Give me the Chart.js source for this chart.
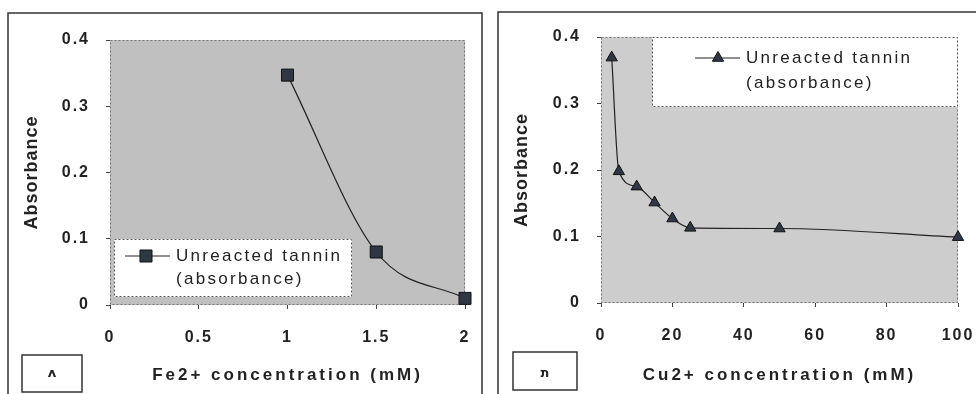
<!DOCTYPE html>
<html><head><meta charset="utf-8">
<script src="https://cdn.jsdelivr.net/npm/chart.js@4.4.0/dist/chart.umd.min.js"></script>
<style>
html,body{margin:0;padding:0;background:#fff;width:976px;height:394px;overflow:hidden}
canvas{position:absolute;top:0}
#c1{left:0px} #c2{left:490px}
</style></head><body>
<canvas id="c1" width="490" height="394"></canvas>
<canvas id="c2" width="486" height="394"></canvas>
<script>
// ---- data ----
const feConc = [1, 1.5, 2];
const feAbs = [0.347, 0.080, 0.010];
const cuConc = [3, 5, 10, 15, 20, 25, 50, 100];
const cuAbs = [0.369, 0.198, 0.175, 0.151, 0.127, 0.113, 0.112, 0.099];
const yTicks = [0, 0.1, 0.2, 0.3, 0.4];
const feTicks = [0, 0.5, 1, 1.5, 2];
const cuTicks = [0, 20, 40, 60, 80, 100];
const seriesName = ['Unreacted tannin', '(absorbance)'];
const yTitle = 'Absorbance';
const feTitle = 'Fe2+ concentration (mM)';
const cuTitle = 'Cu2+ concentration (mM)';
const panelTags = ['ʌ', 'ת'];

const INK = '#222';
const MARK_FILL = '#2f3744';
const FAM = '"Liberation Sans", Arial, sans-serif';

function wrapSpacing(scale, fnName, spacing) {
  const orig = scale[fnName];
  if (orig.__wrapped) return;
  const w = function () {
    const ctx = this.ctx;
    const prev = ctx.letterSpacing;
    ctx.letterSpacing = spacing;
    orig.apply(this, arguments);
    ctx.letterSpacing = prev;
  };
  w.__wrapped = true;
  scale[fnName] = w;
}

function decor(cfg) {
  return {
    id: 'decor',
    beforeLayout(c) { c.ctx.letterSpacing = '2px'; },
    afterUpdate(c) {
      wrapSpacing(c.scales.x, 'drawTitle', '3px');
      wrapSpacing(c.scales.y, 'drawTitle', '1px');
      wrapSpacing(c.scales.x, 'drawLabels', '2px');
      wrapSpacing(c.scales.y, 'drawLabels', '2px');
    },
    beforeDraw(c) {
      const ctx = c.ctx, a = c.chartArea;
      ctx.letterSpacing = '2px';
      ctx.save();
      ctx.fillStyle = cfg.plotBg;
      ctx.fillRect(a.left, a.top, a.right - a.left, a.bottom - a.top);
      ctx.setLineDash([2, 2]);
      ctx.strokeStyle = '#777';
      ctx.lineWidth = 1;
      ctx.strokeRect(a.left + 0.5, a.top + 0.5, a.right - a.left - 1, a.bottom - a.top - 1);
      ctx.setLineDash([]);
      ctx.strokeStyle = '#333';
      ctx.lineWidth = 1.5;
      const p = cfg.panel;
      ctx.strokeRect(p[0], p[1], p[2] - p[0], p[3] - p[1]);
      ctx.restore();
    },
    afterDraw(c) {
      const ctx = c.ctx;
      ctx.save();
      const L = cfg.legend;
      ctx.fillStyle = '#fff';
      ctx.fillRect(L.box[0], L.box[1], L.box[2] - L.box[0], L.box[3] - L.box[1]);
      ctx.setLineDash([2, 2]);
      ctx.strokeStyle = '#555';
      ctx.lineWidth = 1;
      ctx.strokeRect(L.box[0] + 0.5, L.box[1] + 0.5, L.box[2] - L.box[0] - 1, L.box[3] - L.box[1] - 1);
      ctx.setLineDash([]);
      ctx.strokeStyle = INK;
      ctx.lineWidth = 1;
      ctx.beginPath();
      ctx.moveTo(L.line[0], L.y); ctx.lineTo(L.line[1], L.y); ctx.stroke();
      ctx.fillStyle = MARK_FILL;
      ctx.strokeStyle = '#111';
      Chart.helpers.drawPoint(ctx, {pointStyle: cfg.style, radius: cfg.radius, rotation: 0, borderWidth: 1}, L.mx, L.y);
      ctx.fillStyle = INK;
      ctx.font = '17px ' + FAM;
      ctx.letterSpacing = '2.3px';
      ctx.textBaseline = 'middle';
      ctx.textAlign = 'left';
      ctx.fillText(seriesName[0], L.tx, L.y);
      ctx.fillText(seriesName[1], L.tx, L.y2);
      const T = cfg.tag;
      ctx.strokeStyle = '#333';
      ctx.lineWidth = 1.5;
      ctx.strokeRect(T.box[0], T.box[1], T.box[2] - T.box[0], T.box[3] - T.box[1]);
      ctx.letterSpacing = '0px';
      ctx.font = 'bold 13px "DejaVu Sans", sans-serif';
      ctx.textAlign = 'center';
      ctx.fillText(T.text, T.cx, T.cy);
      ctx.restore();
      ctx.letterSpacing = '2px';
    }
  };
}

function makeChart(id, xs, ys, xTicks, xMax, xTitle, cfg) {
  const pts = xs.map((x, i) => ({x: x, y: ys[i]}));
  const tickFont = {family: FAM, size: 16, weight: 'bold'};
  return new Chart(document.getElementById(id), {
    type: 'scatter',
    data: {datasets: [{
      label: seriesName.join(' '),
      data: pts,
      showLine: true,
      clip: false,
      borderColor: INK,
      borderWidth: 1.2,
      cubicInterpolationMode: 'monotone',
      pointStyle: cfg.style,
      pointRadius: cfg.radius,
      pointHoverRadius: cfg.radius,
      pointBackgroundColor: MARK_FILL,
      pointBorderColor: '#111',
      pointBorderWidth: 1
    }]},
    options: {
      responsive: false,
      animation: false,
      devicePixelRatio: 1,
      layout: {padding: {left: 0, top: cfg.top, right: cfg.right, bottom: 0}},
      plugins: {legend: {display: false}, tooltip: {enabled: false}},
      scales: {
        x: {
          type: 'linear', min: 0, max: xMax,
          afterBuildTicks: s => { s.ticks = xTicks.map(v => ({value: v})); },
          afterFit: s => { s.height = cfg.xh; s.paddingLeft = 0; s.paddingRight = 0; },
          grid: {display: true, drawOnChartArea: false, tickLength: 4, color: '#444'},
          border: {display: false},
          ticks: {color: INK, font: tickFont, padding: 19, maxRotation: 0, callback: v => String(v)},
          title: {display: true, text: xTitle, color: INK, padding: {top: 0, bottom: 8},
                  font: {family: FAM, size: 17, weight: 'bold'}}
        },
        y: {
          type: 'linear', min: 0, max: 0.4,
          afterBuildTicks: s => { s.ticks = yTicks.map(v => ({value: v})); },
          afterFit: s => { s.width = cfg.yw; s.paddingTop = 0; s.paddingBottom = 0; },
          grid: {display: true, drawOnChartArea: false, tickLength: 4, color: '#444'},
          border: {display: false},
          ticks: {color: INK, font: tickFont, padding: 16, callback: v => String(v)},
          title: {display: true, text: yTitle, color: INK, padding: {top: 21, bottom: 0},
                  font: {family: FAM, size: 18, weight: 'bold'}}
        }
      }
    },
    plugins: [decor(cfg)]
  });
}

makeChart('c1', feConc, feAbs, feTicks, 2, feTitle, {
  top: 40, right: 25, yw: 110, xh: 89,
  plotBg: '#c0c0c0', style: 'rect', radius: 8.5,
  panel: [8, 13, 482, 420],
  legend: {box: [114, 239, 352, 297], line: [125, 170], mx: 146, y: 256, y2: 279, tx: 176},
  tag: {box: [22, 355, 82, 392], cx: 52, cy: 374, text: panelTags[0]}
});
makeChart('c2', cuConc, cuAbs, cuTicks, 100, cuTitle, {
  top: 37, right: 18, yw: 111, xh: 91,
  plotBg: '#cdcdcd', style: 'triangle', radius: 6.5,
  panel: [8, 12, 520, 420],
  legend: {box: [162, 37, 468, 107], line: [205, 250], mx: 228, y: 58, y2: 83, tx: 256},
  tag: {box: [23, 352, 87, 390], cx: 55, cy: 374, text: panelTags[1]}
});
</script>
</body></html>
